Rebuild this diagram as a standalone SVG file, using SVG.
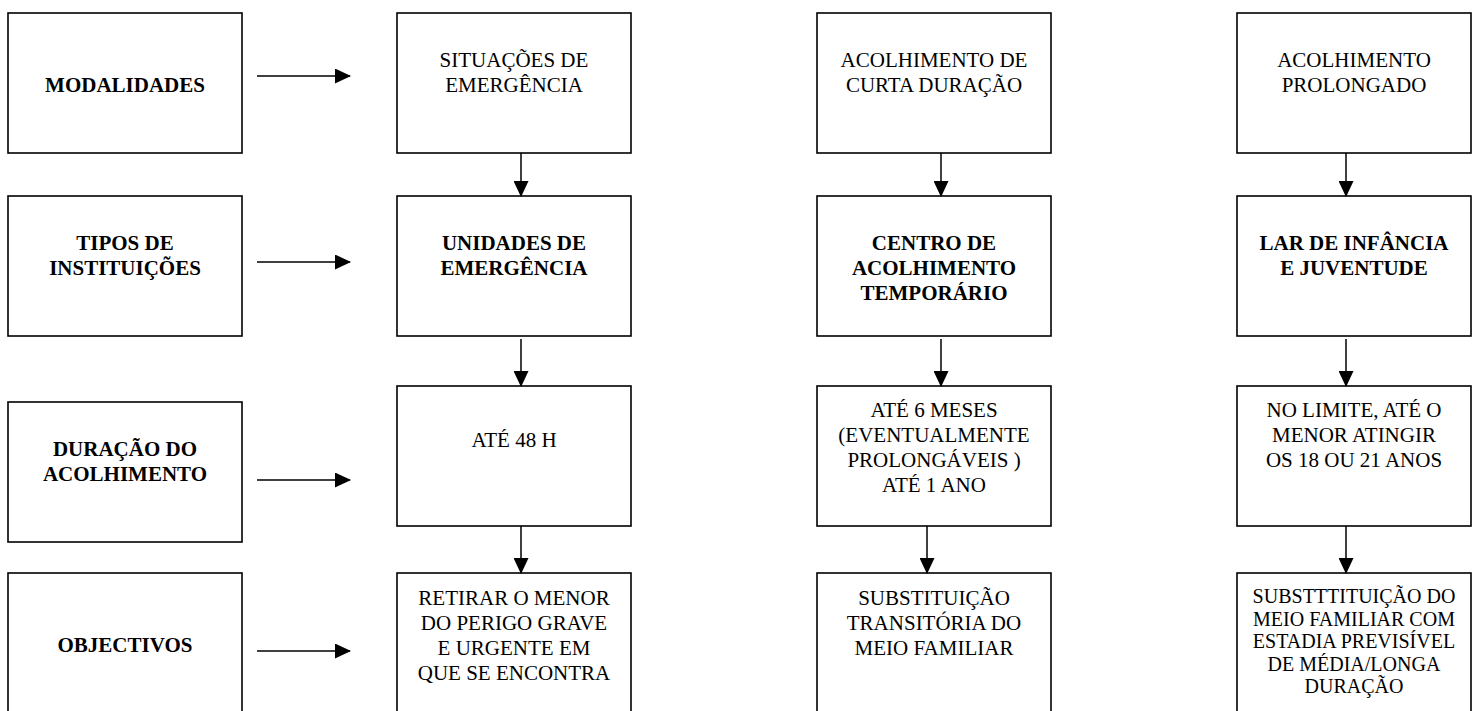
<svg xmlns="http://www.w3.org/2000/svg" width="1480" height="711" viewBox="0 0 1480 711">
<style>
.box{fill:#fff;stroke:#000;stroke-width:1.6}
.t{font-family:"Liberation Serif","Times New Roman",serif;font-size:21px;fill:#000;text-anchor:middle}
.b{font-weight:bold}
.s{font-size:20px}
.ln{stroke:#000;stroke-width:1.5;fill:none;marker-end:url(#ah)}
</style>
<defs>
<marker id="ah" viewBox="0 0 16 15" refX="15" refY="7.5" markerWidth="16" markerHeight="15" markerUnits="userSpaceOnUse" orient="auto">
<path d="M0,0 L16,7.5 L0,15 Z" fill="#000"/>
</marker>
</defs>
<g id="modalidades"><rect class="box" x="8" y="13" width="234" height="140"/><text class="t b" x="125" y="92">MODALIDADES</text></g>
<g id="situacoes"><rect class="box" x="397" y="13" width="234" height="140"/><text class="t" x="514" y="66.5">SITUAÇÕES DE</text><text class="t" x="514" y="91.5">EMERGÊNCIA</text></g>
<g id="curta"><rect class="box" x="817" y="13" width="234" height="140"/><text class="t" x="934" y="66.5">ACOLHIMENTO DE</text><text class="t" x="934" y="91.5">CURTA DURAÇÃO</text></g>
<g id="prolongado"><rect class="box" x="1237" y="13" width="234" height="140"/><text class="t" x="1354" y="66.5">ACOLHIMENTO</text><text class="t" x="1354" y="91.5">PROLONGADO</text></g>

<g id="tipos"><rect class="box" x="8" y="196" width="234" height="140"/><text class="t b" x="125" y="250">TIPOS DE</text><text class="t b" x="125" y="275">INSTITUIÇÕES</text></g>
<g id="unidades"><rect class="box" x="397" y="196" width="234" height="140"/><text class="t b" x="514" y="250">UNIDADES DE</text><text class="t b" x="514" y="275">EMERGÊNCIA</text></g>
<g id="centro"><rect class="box" x="817" y="196" width="234" height="140"/><text class="t b" x="934" y="250">CENTRO DE</text><text class="t b" x="934" y="275">ACOLHIMENTO</text><text class="t b" x="934" y="300">TEMPORÁRIO</text></g>
<g id="lar"><rect class="box" x="1237" y="196" width="234" height="140"/><text class="t b" x="1354" y="250">LAR DE INFÂNCIA</text><text class="t b" x="1354" y="275">E JUVENTUDE</text></g>

<g id="duracao"><rect class="box" x="8" y="402" width="234" height="140"/><text class="t b" x="125" y="456">DURAÇÃO DO</text><text class="t b" x="125" y="481">ACOLHIMENTO</text></g>
<g id="ate48"><rect class="box" x="397" y="386" width="234" height="140"/><text class="t" x="514" y="447">ATÉ 48 H</text></g>
<g id="ate6"><rect class="box" x="817" y="386" width="234" height="140"/><text class="t" x="934" y="417">ATÉ 6 MESES</text><text class="t" x="934" y="442">(EVENTUALMENTE</text><text class="t" x="934" y="467">PROLONGÁVEIS )</text><text class="t" x="934" y="492">ATÉ 1 ANO</text></g>
<g id="limite"><rect class="box" x="1237" y="386" width="234" height="140"/><text class="t" x="1354" y="417">NO LIMITE, ATÉ O</text><text class="t" x="1354" y="442">MENOR ATINGIR</text><text class="t" x="1354" y="467">OS 18 OU 21 ANOS</text></g>

<g id="objectivos"><rect class="box" x="8" y="573" width="234" height="141"/><text class="t b" x="125" y="652">OBJECTIVOS</text></g>
<g id="retirar"><rect class="box" x="397" y="573" width="234" height="141"/><text class="t" x="514" y="605">RETIRAR O MENOR</text><text class="t" x="514" y="630">DO PERIGO GRAVE</text><text class="t" x="514" y="655">E URGENTE EM</text><text class="t" x="514" y="680">QUE SE ENCONTRA</text></g>
<g id="substituicao"><rect class="box" x="817" y="573" width="234" height="141"/><text class="t" x="934" y="605">SUBSTITUIÇÃO</text><text class="t" x="934" y="630">TRANSITÓRIA DO</text><text class="t" x="934" y="655">MEIO FAMILIAR</text></g>
<g id="substtt"><rect class="box" x="1237" y="573" width="234" height="141"/><text class="t s" x="1354" y="603">SUBSTTTITUIÇÃO DO</text><text class="t s" x="1354" y="625.5">MEIO FAMILIAR COM</text><text class="t s" x="1354" y="648">ESTADIA PREVISÍVEL</text><text class="t s" x="1354" y="670.5">DE MÉDIA/LONGA</text><text class="t s" x="1354" y="693">DURAÇÃO</text></g>

<g id="connectors">
<line class="ln" x1="257" y1="76" x2="350" y2="76"/>
<line class="ln" x1="257" y1="262" x2="350" y2="262"/>
<line class="ln" x1="257" y1="480" x2="350" y2="480"/>
<line class="ln" x1="257" y1="651" x2="350" y2="651"/>
<line class="ln" x1="521" y1="153" x2="521" y2="196"/>
<line class="ln" x1="521" y1="339" x2="521" y2="386"/>
<line class="ln" x1="521" y1="526" x2="521" y2="573"/>
<line class="ln" x1="941" y1="153" x2="941" y2="196"/>
<line class="ln" x1="941" y1="339" x2="941" y2="386"/>
<line class="ln" x1="927" y1="526" x2="927" y2="573"/>
<line class="ln" x1="1346" y1="153" x2="1346" y2="196"/>
<line class="ln" x1="1346" y1="339" x2="1346" y2="386"/>
<line class="ln" x1="1346" y1="526" x2="1346" y2="573"/>
</g>
</svg>
